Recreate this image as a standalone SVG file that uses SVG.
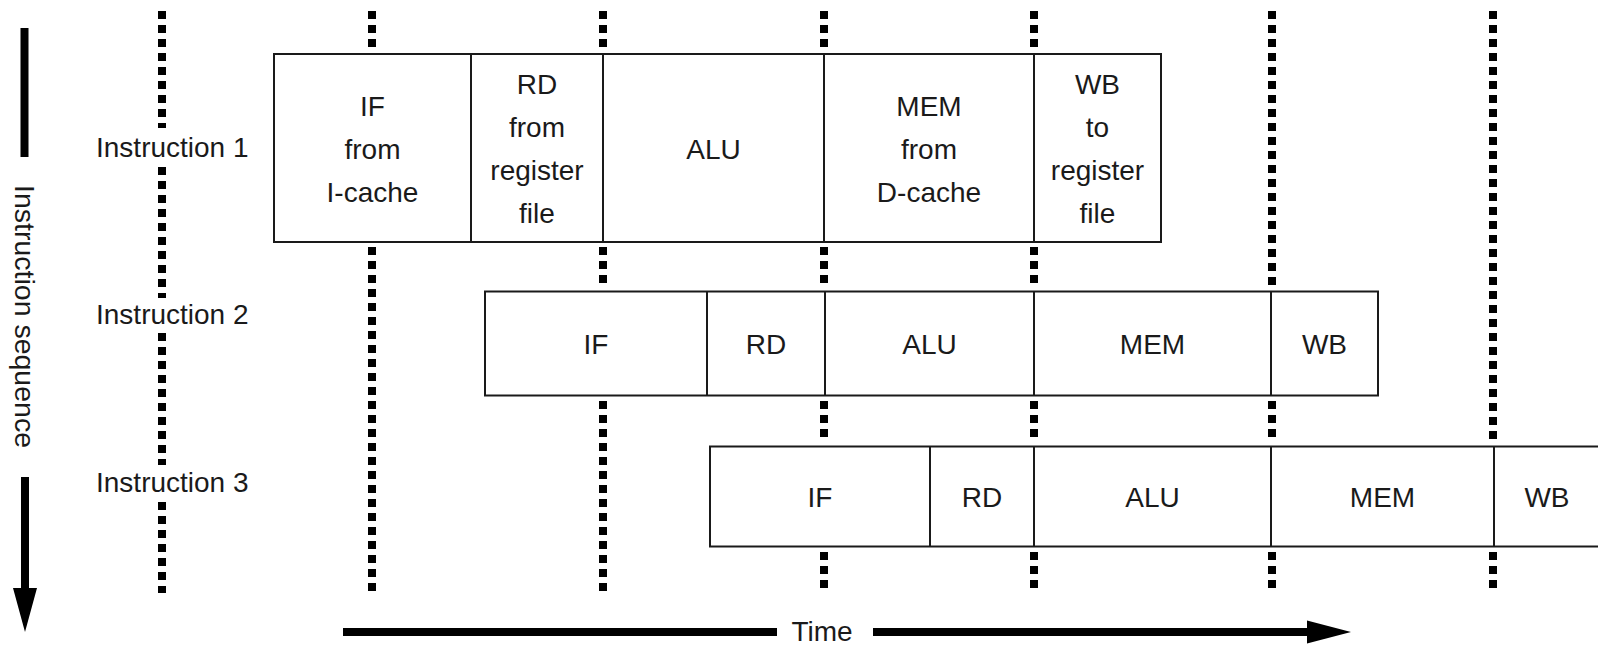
<svg xmlns="http://www.w3.org/2000/svg" width="1598" height="645" viewBox="0 0 1598 645">
  <style>
    .t { font-family: "Liberation Sans", Arial, sans-serif; font-size: 28px; fill: #1a1a1a; }
    .c { text-anchor: middle; }
    .box { fill: #ffffff; stroke: #1a1a1a; stroke-width: 2; }
    .div { stroke: #1a1a1a; stroke-width: 2; }
    .grid { stroke: #000000; stroke-width: 8; stroke-dasharray: 8 6; fill: none; }
    .axis { stroke: #000000; stroke-width: 8; fill: none; }
  </style>

  <!-- time grid lines -->
  <g id="gridlines" class="grid">
    <path d="M162 11V128 M162 167V298 M162 333V465 M162 502V593"/>
    <path d="M372 11V48 M372 247V593"/>
    <path d="M603 11V48 M603 247V285 M603 401V593"/>
    <path d="M824 11V48 M824 247V285 M824 401V440 M824 552V593"/>
    <path d="M1034 11V48 M1034 247V285 M1034 401V440 M1034 552V593"/>
    <path d="M1272 11V285 M1272 401V440 M1272 552V593"/>
    <path d="M1493 11V440 M1493 552V593"/>
  </g>

  <!-- axes / connectors -->
  <g id="connectors">
    <line class="axis" x1="24.5" y1="28" x2="24.5" y2="157"/>
    <line class="axis" x1="25" y1="477" x2="25" y2="595"/>
    <polygon points="13,588 37,588 25,632" fill="#000"/>
    <line class="axis" x1="343" y1="632" x2="777" y2="632"/>
    <line class="axis" x1="873" y1="632" x2="1312" y2="632"/>
    <polygon points="1307,620.5 1351,632 1307,643.5" fill="#000"/>
  </g>

  <g id="axis-labels">
    <text class="t" transform="translate(15,185) rotate(90)" textLength="263" lengthAdjust="spacingAndGlyphs">Instruction sequence</text>
    <text class="t c" x="822" y="641">Time</text>
  </g>

  <g id="labels">
    <text class="t" x="96" y="157">Instruction 1</text>
    <text class="t" x="96" y="324">Instruction 2</text>
    <text class="t" x="96" y="492">Instruction 3</text>
  </g>

  <!-- Instruction 1 -->
  <g id="instr1">
    <rect class="box" x="274" y="54" width="887" height="188"/>
    <line class="div" x1="471" y1="54" x2="471" y2="242"/>
    <line class="div" x1="603" y1="54" x2="603" y2="242"/>
    <line class="div" x1="824" y1="54" x2="824" y2="242"/>
    <line class="div" x1="1034" y1="54" x2="1034" y2="242"/>
    <text class="t c" x="372.5" y="116">IF</text>
    <text class="t c" x="372.5" y="159">from</text>
    <text class="t c" x="372.5" y="202">I-cache</text>
    <text class="t c" x="537" y="94">RD</text>
    <text class="t c" x="537" y="137">from</text>
    <text class="t c" x="537" y="180">register</text>
    <text class="t c" x="537" y="223">file</text>
    <text class="t c" x="713.5" y="159">ALU</text>
    <text class="t c" x="929" y="116">MEM</text>
    <text class="t c" x="929" y="159">from</text>
    <text class="t c" x="929" y="202">D-cache</text>
    <text class="t c" x="1097.5" y="94">WB</text>
    <text class="t c" x="1097.5" y="137">to</text>
    <text class="t c" x="1097.5" y="180">register</text>
    <text class="t c" x="1097.5" y="223">file</text>
  </g>

  <!-- Instruction 2 -->
  <g id="instr2">
    <rect class="box" x="485" y="291.5" width="893" height="104"/>
    <line class="div" x1="707" y1="291.5" x2="707" y2="395.5"/>
    <line class="div" x1="825" y1="291.5" x2="825" y2="395.5"/>
    <line class="div" x1="1034" y1="291.5" x2="1034" y2="395.5"/>
    <line class="div" x1="1271" y1="291.5" x2="1271" y2="395.5"/>
    <text class="t c" x="596" y="354">IF</text>
    <text class="t c" x="766" y="354">RD</text>
    <text class="t c" x="929.5" y="354">ALU</text>
    <text class="t c" x="1152.5" y="354">MEM</text>
    <text class="t c" x="1324.5" y="354">WB</text>
  </g>

  <!-- Instruction 3 -->
  <g id="instr3">
    <rect class="box" x="710" y="446.5" width="895" height="100"/>
    <line class="div" x1="930" y1="446.5" x2="930" y2="546.5"/>
    <line class="div" x1="1034" y1="446.5" x2="1034" y2="546.5"/>
    <line class="div" x1="1271" y1="446.5" x2="1271" y2="546.5"/>
    <line class="div" x1="1494" y1="446.5" x2="1494" y2="546.5"/>
    <text class="t c" x="820" y="507">IF</text>
    <text class="t c" x="982" y="507">RD</text>
    <text class="t c" x="1152.5" y="507">ALU</text>
    <text class="t c" x="1382.5" y="507">MEM</text>
    <text class="t c" x="1547" y="507">WB</text>
  </g>
</svg>
